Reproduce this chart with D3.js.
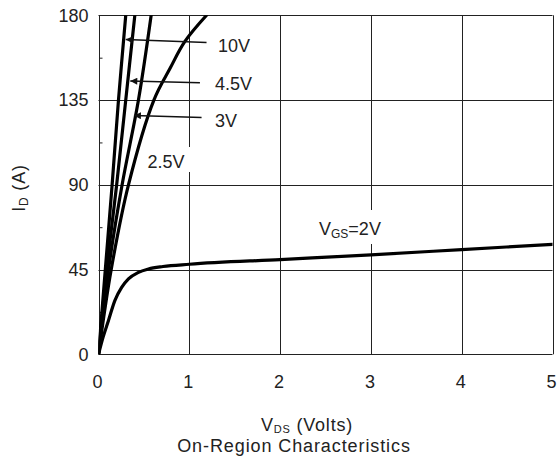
<!DOCTYPE html>
<html>
<head>
<meta charset="utf-8">
<script src="https://cdn.jsdelivr.net/npm/d3@7"></script>
<style>
  body { margin: 0; background: #fff; }
  text { font-family: "Liberation Sans", Arial, sans-serif; fill: #222; }
</style>
</head>
<body>
<div id="chart-area"></div>
<script>
// data (Vds in volts, Id in amps)
var xTicks = [0, 1, 2, 3, 4, 5]
var yTicks = [0, 45, 90, 135, 180]
var yMinor = [22.5, 67.5, 112.5, 157.5]

var vgs10 = [[0, 0], [0.075, 45], [0.15, 90], [0.22, 135], [0.30, 180]]
var vgs45 = [[0, 0], [0.09, 45], [0.20, 90], [0.30, 135], [0.40, 180]]
var vgs3 = [[0, 0], [0.11, 45], [0.26, 90], [0.44, 135], [0.58, 180]]
var vgs25 = [[0, 0], [0.14, 45], [0.33, 90], [0.61, 135], [0.79, 152], [0.95, 166], [1.19, 180]]
var vgs2 = [[0, 0], [0.05, 9], [0.11, 18], [0.18, 28.5], [0.255, 35.5], [0.33, 40], [0.44, 43.5],
            [0.55, 45.3], [0.71, 46.6], [1.0, 47.8], [2, 50.3], [3, 52.8], [4, 55.6], [5, 58.4]]

// arrow labels: text, tail [Vds, Id], tip [Vds, Id]
var arrowLabels = [
    {name: "10V", tail: [1.19, 165.5], tip: [0.30, 167.1]},
    {name: "4.5V", tail: [1.117, 144.2], tip: [0.35, 145.1]},
    {name: "3V", tail: [1.135, 125.8], tip: [0.39, 126.8]}
]

function init() {
    var svgWidth = 558
    var svgHeight = 459
    var margin = {top: 15.3, right: 5.5, bottom: 104.7, left: 98.5}
    var chartWidth = svgWidth - margin.left - margin.right
    var chartHeight = svgHeight - margin.top - margin.bottom

    var svg = d3.select("#chart-area")
        .append("svg")
        .attr("width", svgWidth)
        .attr("height", svgHeight)

    svg.append("defs").append("marker")
        .attr("id", "head")
        .attr("viewBox", "0 0 10 10")
        .attr("refX", 10).attr("refY", 5)
        .attr("markerWidth", 10).attr("markerHeight", 7)
        .attr("markerUnits", "userSpaceOnUse")
        .attr("orient", "auto")
        .append("path")
        .attr("d", "M0,0L10,5L0,10Z")
        .attr("fill", "#111")

    svg.append("clipPath").attr("id", "plot-clip")
        .append("rect")
        .attr("x", margin.left).attr("y", margin.top)
        .attr("width", chartWidth).attr("height", chartHeight)

    var xScale = d3.scaleLinear().domain([0, 5]).range([margin.left, margin.left + chartWidth])
    var yScale = d3.scaleLinear().domain([0, 180]).range([margin.top + chartHeight, margin.top])

    // grid
    var grid = svg.append("g").attr("stroke", "#222").attr("stroke-width", 1)
    grid.selectAll(".vgrid").data(xTicks).enter().append("line")
        .attr("x1", d => Math.round(xScale(d)) + 0.5).attr("x2", d => Math.round(xScale(d)) + 0.5)
        .attr("y1", yScale(0)).attr("y2", yScale(180))
    grid.selectAll(".hgrid").data(yTicks).enter().append("line")
        .attr("y1", d => Math.round(yScale(d)) + 0.5).attr("y2", d => Math.round(yScale(d)) + 0.5)
        .attr("x1", xScale(0)).attr("x2", xScale(5))

    // minor ticks on left edge
    svg.append("g")
        .attr("transform", "translate(" + (Math.round(xScale(0)) + 0.5) + ",0)")
        .call(d3.axisRight(yScale).tickValues(yMinor).tickSize(3).tickFormat(""))
        .call(g => g.select(".domain").remove())
        .selectAll("line").attr("stroke", "#222")

    // axes labels
    svg.append("g")
        .attr("transform", "translate(" + xScale(0) + ",0)")
        .call(d3.axisLeft(yScale).tickValues(yTicks).tickSize(0).tickPadding(10).tickFormat(d3.format("d")))
        .call(g => g.select(".domain").remove())
        .selectAll("text").attr("font-size", "18px").attr("font-family", null).attr("fill", "#222")

    svg.append("g")
        .attr("transform", "translate(-1.5," + yScale(0) + ")")
        .call(d3.axisBottom(xScale).tickValues(xTicks).tickSize(0).tickPadding(21).tickFormat(d3.format("d")))
        .call(g => g.select(".domain").remove())
        .selectAll("text").attr("font-size", "18px").attr("font-family", null).attr("fill", "#222")

    // white boxes behind in-plot labels
    svg.append("rect").attr("x", 143).attr("y", 147).attr("width", 50).attr("height", 25).attr("fill", "#fff")
    svg.append("rect").attr("x", 312).attr("y", 210).attr("width", 78).attr("height", 34).attr("fill", "#fff")

    // curves
    var steepLine = d3.line()
        .x(d => xScale(d[0]))
        .y(d => yScale(d[1]))
        .curve(d3.curveCatmullRom)

    var flatLine = d3.line()
        .x(d => xScale(d[0]))
        .y(d => yScale(d[1]))
        .curve(d3.curveMonotoneX)

    var curves = svg.append("g").attr("clip-path", "url(#plot-clip)")
    curves.selectAll(".steep")
        .data([vgs10, vgs45, vgs3, vgs25])
        .enter().append("path")
        .attr("class", "steep")
        .attr("d", steepLine)
    curves.append("path")
        .datum(vgs2)
        .attr("d", flatLine)
    curves.selectAll("path")
        .attr("fill", "none")
        .attr("stroke", "#000")
        .attr("stroke-width", 3.2)
        .attr("stroke-linecap", "round")

    // arrows and their labels
    svg.append("g").selectAll("line")
        .data(arrowLabels).enter().append("line")
        .attr("x1", d => xScale(d.tail[0])).attr("y1", d => yScale(d.tail[1]))
        .attr("x2", d => xScale(d.tip[0])).attr("y2", d => yScale(d.tip[1]))
        .attr("stroke", "#111").attr("stroke-width", 1.5)
        .attr("marker-end", "url(#head)")

    var labelPos = [[218, 52.3], [215, 90], [215, 126.7]]
    svg.append("g").selectAll("text")
        .data(arrowLabels).enter().append("text")
        .attr("x", (d, i) => labelPos[i][0])
        .attr("y", (d, i) => labelPos[i][1])
        .attr("font-size", "18px")
        .text(d => d.name)

    svg.append("text").attr("x", 147.5).attr("y", 168.3).attr("font-size", "18px").text("2.5V")

    var vgsLabel = svg.append("text").attr("x", 319).attr("y", 235).attr("font-size", "18px")
    vgsLabel.append("tspan").text("V")
    vgsLabel.append("tspan").attr("font-size", "12px").attr("dy", 3).text("GS")
    vgsLabel.append("tspan").attr("dy", -3).text("=2V")

    // axis titles
    var xTitle = svg.append("text")
        .attr("x", 307).attr("y", 430.5)
        .attr("text-anchor", "middle")
        .attr("font-size", "18px")
        .attr("letter-spacing", "0.8px")
    xTitle.append("tspan").text("V")
    xTitle.append("tspan").attr("font-size", "11px").attr("dy", 2).text("DS")
    xTitle.append("tspan").attr("dy", -2).text(" (Volts)")

    svg.append("text")
        .attr("x", 294).attr("y", 451.5)
        .attr("text-anchor", "middle")
        .attr("font-size", "18px")
        .attr("letter-spacing", "0.9px")
        .text("On-Region Characteristics")

    var yTitle = svg.append("text")
        .attr("transform", "translate(25,188) rotate(-90)")
        .attr("text-anchor", "middle")
        .attr("font-size", "18px")
        .attr("letter-spacing", "0.8px")
    yTitle.append("tspan").text("I")
    yTitle.append("tspan").attr("font-size", "12px").attr("dy", 3).text("D")
    yTitle.append("tspan").attr("dy", -3).text(" (A)")
}

window.addEventListener('load', init, false)
</script>
</body>
</html>
